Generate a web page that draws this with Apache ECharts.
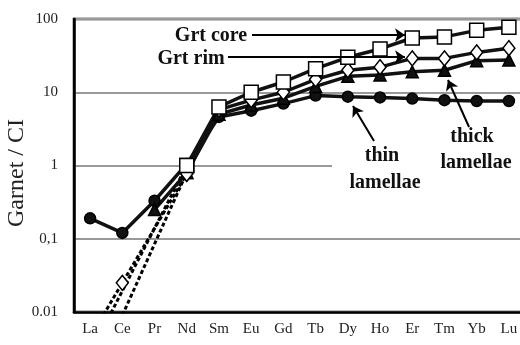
<!DOCTYPE html>
<html>
<head>
<meta charset="utf-8">
<script src="https://cdn.jsdelivr.net/npm/echarts@6/dist/echarts.min.js"></script>
<style>
  html, body { margin: 0; padding: 0; background: #fff; }
  #chart { width: 520px; height: 345px; }
</style>
</head>
<body>
<div id="chart"></div>
<script>
// REE on the x axis
var elements = ['La', 'Ce', 'Pr', 'Nd', 'Sm', 'Eu', 'Gd', 'Tb', 'Dy', 'Ho', 'Er', 'Tm', 'Yb', 'Lu'];

// garnet / chondrite (solid parts)
var grtCore = [null, null, null, 1.0, 6.3, 10, 13.8, 21, 30, 39, 55, 57, 70, 77];
var grtRim = [null, null, null, 0.77, 5.8, 7.8, 10, 15, 20, 22, 29, 29, 35, 40];
var thickLam = [null, null, 0.25, 0.8, 5.0, 6.7, 8.3, 12, 16.5, 17.2, 19, 20, 27, 27.5];
var thinLam = [0.19, 0.12, 0.33, 1.05, 4.6, 5.6, 7.0, 9.0, 8.7, 8.5, 8.2, 7.8, 7.6, 7.6];

// dashed LREE extrapolations (La..Nd), values < 0.01 run off the bottom
var coreLREE = [0.0027, null, null, 1.0];
var rimLREE = [0.0045, 0.025, null, 0.77];
var thickLREE = [null, 0.009, null, 0.8];

var yTickLabels = { '-2': '0.01', '-1': '0,1', '0': '1', '1': '10', '2': '100' };

var serif = '"Liberation Serif", "DejaVu Serif", serif';

function makeSeries(name, solid, dashed, symbol, size, fill) {
  var out = [];
  var item = { color: fill, borderColor: '#000', borderWidth: 1.5 };
  if (dashed) {
    out.push({
      name: name + '_dash',
      type: 'line',
      data: dashed,
      connectNulls: true,
      symbol: symbol,
      symbolSize: size,
      itemStyle: item,
      lineStyle: { color: '#000', width: 3, type: [4, 2.5] },
      z: 2
    });
  }
  out.push({
    name: name,
    type: 'line',
    data: solid,
    symbol: symbol,
    symbolSize: size,
    itemStyle: item,
    lineStyle: { color: '#111', width: 3.5 },
    z: 3
  });
  return out;
}

var series = []
  .concat(makeSeries('thin', thinLam, null, 'circle', 11, '#111'))
  .concat(makeSeries('thick', thickLam, thickLREE, 'triangle', 12, '#111'))
  .concat(makeSeries('rim', grtRim, rimLREE, 'diamond', [12, 15], '#fff'))
  .concat(makeSeries('core', grtCore, coreLREE, 'rect', 14, '#fff'));

// arrows for the annotations
series[series.length - 1].markLine = {
  silent: true,
  symbol: ['none', 'arrow'],
  symbolSize: 10,
  label: { show: false },
  lineStyle: { color: '#000', width: 2, type: 'solid' },
  data: [
    [{ x: 252, y: 35 }, { x: 405, y: 35 }],
    [{ x: 228, y: 57 }, { x: 405, y: 57 }],
    [{ x: 374, y: 141 }, { x: 353, y: 106 }],
    [{ x: 469, y: 127 }, { x: 448, y: 80 }]
  ]
};

function label(text, x, y) {
  return {
    type: 'text', x: x, y: y, z: 20,
    style: {
      text: text, fill: '#111', font: 'bold 20px ' + serif,
      textAlign: 'center', textVerticalAlign: 'middle'
    }
  };
}

var option = {
  animation: false,
  grid: {
    left: 74, top: 19, width: 451, height: 293,
    outerBoundsMode: 'none',
    containLabel: false,
    show: true, borderColor: '#000', borderWidth: 2.5
  },
  xAxis: {
    type: 'category',
    data: elements,
    boundaryGap: true,
    axisLine: { lineStyle: { color: '#000', width: 2.5 } },
    axisTick: { inside: true, length: 5, lineStyle: { color: '#000', width: 1.5 } },
    axisLabel: { color: '#222', fontFamily: serif, fontSize: 15, margin: 10 },
    splitLine: { show: false }
  },
  yAxis: {
    type: 'log',
    logBase: 10,
    min: 0.01,
    max: 100,
    axisLine: { show: true, lineStyle: { color: '#000', width: 2.5 } },
    axisTick: { show: false },
    axisLabel: {
      color: '#222', fontFamily: serif, fontSize: 15, margin: 16,
      formatter: function (v) {
        return yTickLabels[String(Math.round(Math.log10(v)))] || '';
      }
    },
    splitLine: { lineStyle: { color: '#999', width: 2 } }
  },
  graphic: [
    // y axis title
    {
      type: 'text', x: 17, y: 173, rotation: Math.PI / 2, z: 20,
      style: {
        text: 'Garnet / CI', fill: '#222', font: '24px ' + serif,
        textAlign: 'center', textVerticalAlign: 'middle'
      }
    },
    // text box behind the lamellae labels hides part of the "1" gridline
    { type: 'rect', shape: { x: 332, y: 159, width: 190, height: 10 }, style: { fill: '#fff' }, z: 1 },
    label('Grt core', 211, 36),
    label('Grt rim', 191, 59),
    label('thin', 382, 156),
    label('lamellae', 385, 183),
    label('thick', 472, 137),
    label('lamellae', 476, 163)
  ],
  series: series
};

var chart = echarts.init(document.getElementById('chart'), null, { renderer: 'canvas' });
chart.setOption(option);
</script>
</body>
</html>
